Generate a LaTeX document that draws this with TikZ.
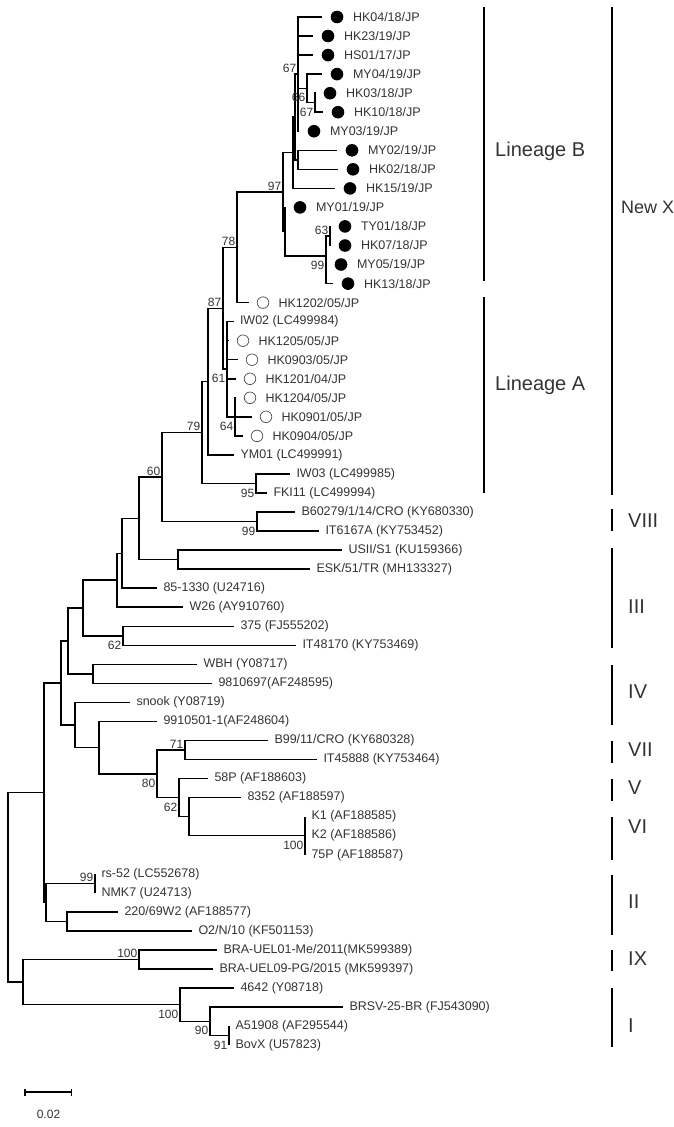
\documentclass[tikz,border=0pt]{standalone}
\usepackage{fontspec}
\setmainfont{Liberation Sans}
\usetikzlibrary{arrows.meta, positioning}

\begin{document}
\begin{tikzpicture}[
  x=1pt, y=-1pt,
  br/.style={line width=1.5pt},
  leaf/.style={anchor=west, font=\fontsize{12.5}{14}\selectfont, text=black!80,
               inner xsep=6.5pt, inner ysep=1pt, outer sep=0pt},
  jp/.style={font=\fontsize{12.5}{14}\selectfont, text=black!80, inner sep=0pt},
  fdot/.style={circle, fill=black, minimum size=12.6pt, inner sep=0pt, outer sep=8.5pt},
  odot/.style={circle, draw=black!70, line width=0.7pt, minimum size=11.6pt,
               inner sep=0pt, outer sep=8.5pt},
  bup/.style={font=\fontsize{12}{13}\selectfont, text=black!80, inner sep=1.5pt, anchor=south east},
  bdn/.style={bup, anchor=north east, yshift=-3.5pt},
  bar/.style={line width=2.8pt},
  clade/.style={anchor=west, font=\fontsize{20}{22}\selectfont, text=black!80, inner sep=0pt}
]
\useasboundingbox (0,0) rectangle (674,1127);

% internal nodes
\coordinate (root) at (8,887.4);
\coordinate (nA) at (44,792.7);
\coordinate (nC) at (23,982.1);
\coordinate (b100a) at (139,959.5);
\coordinate (b100b) at (180,1004.7);
\coordinate (b90) at (210,1021.4);
\coordinate (b91) at (229,1035.6);
\coordinate (nII) at (46,902.4);
\coordinate (b99c) at (95,883.3);
\coordinate (nW) at (67,921.4);
\coordinate (nD) at (61,683);
\coordinate (nF) at (68,641);
\coordinate (nG) at (83,608);
\coordinate (nH) at (117,580.2);
\coordinate (nJ) at (122,553.3);
\coordinate (nK) at (139,518.3);
\coordinate (b60) at (162,477);
\coordinate (nUS) at (178,559.6);
\coordinate (b79) at (202,432.5);
\coordinate (b99b) at (257,521.6);
\coordinate (b95) at (256,483.5);
\coordinate (nX) at (208,381.6);
\coordinate (b87) at (223,308.3);
\coordinate (b61) at (227,369.2);
\coordinate (b64) at (235,416.8);
\coordinate (b78) at (237,247.4);
\coordinate (b97) at (283,192.2);
\coordinate (nQ) at (293,152.7);
\coordinate (nR) at (295,117);
\coordinate (b67) at (298,74.1);
\coordinate (b66) at (307,88.4);
\coordinate (b67b) at (315,102.7);
\coordinate (nS) at (298,159.8);
\coordinate (nT) at (285,231.7);
\coordinate (b99) at (326,256);
\coordinate (b63) at (330,236);
\coordinate (b62) at (123,635.8);
\coordinate (nWBH) at (93,673.9);
\coordinate (nL) at (75,725);
\coordinate (nM) at (99,747.6);
\coordinate (b80) at (157,773.8);
\coordinate (b71) at (185,750);
\coordinate (b62b) at (179,797.6);
\coordinate (nN) at (189,816.7);
\coordinate (b100c) at (305,835.7);

% tips, lineage B
\node[fdot] (hk04) at (337,17) {};
\node[jp, right=1pt of hk04] (hk04t) {HK04/18/JP};
\node[fdot] (hk23) at (328,36) {};
\node[jp, right=1pt of hk23] (hk23t) {HK23/19/JP};
\node[fdot] (hs01) at (328,55.1) {};
\node[jp, right=1pt of hs01] (hs01t) {HS01/17/JP};
\node[fdot] (my04) at (337,74.1) {};
\node[jp, right=1pt of my04] (my04t) {MY04/19/JP};
\node[fdot] (hk03) at (330,93.2) {};
\node[jp, right=1pt of hk03] (hk03t) {HK03/18/JP};
\node[fdot] (hk10) at (338,112.2) {};
\node[jp, right=1pt of hk10] (hk10t) {HK10/18/JP};
\node[fdot] (my03) at (314,131.2) {};
\node[jp, right=1pt of my03] (my03t) {MY03/19/JP};
\node[fdot] (my02) at (352,150.3) {};
\node[jp, right=1pt of my02] (my02t) {MY02/19/JP};
\node[fdot] (hk02) at (353,169.3) {};
\node[jp, right=1pt of hk02] (hk02t) {HK02/18/JP};
\node[fdot] (hk15) at (350,188.4) {};
\node[jp, right=1pt of hk15] (hk15t) {HK15/19/JP};
\node[fdot] (my01) at (300,207.4) {};
\node[jp, right=1pt of my01] (my01t) {MY01/19/JP};
\node[fdot] (ty01) at (345,226.4) {};
\node[jp, right=1pt of ty01] (ty01t) {TY01/18/JP};
\node[fdot] (hk07) at (345,245.5) {};
\node[jp, right=1pt of hk07] (hk07t) {HK07/18/JP};
\node[fdot] (my05) at (341,264.5) {};
\node[jp, right=1pt of my05] (my05t) {MY05/19/JP};
\node[fdot] (hk13) at (348,283.6) {};
\node[jp, right=1pt of hk13] (hk13t) {HK13/18/JP};

% tips, lineage A
\node[odot] (hk1202) at (263,302.6) {};
\node[jp, right=1pt of hk1202] (hk1202t) {HK1202/05/JP};
\node[leaf] (iw02) at (233.5,321.6) {IW02 (LC499984)};
\node[odot] (hk1205) at (243,340.7) {};
\node[jp, right=1pt of hk1205] (hk1205t) {HK1205/05/JP};
\node[odot] (hk0903) at (252,359.7) {};
\node[jp, right=1pt of hk0903] (hk0903t) {HK0903/05/JP};
\node[odot] (hk1201) at (250,378.8) {};
\node[jp, right=1pt of hk1201] (hk1201t) {HK1201/04/JP};
\node[odot] (hk1204) at (250,397.8) {};
\node[jp, right=1pt of hk1204] (hk1204t) {HK1204/05/JP};
\node[odot] (hk0901) at (266,416.8) {};
\node[jp, right=1pt of hk0901] (hk0901t) {HK0901/05/JP};
\node[odot] (hk0904) at (257,435.9) {};
\node[jp, right=1pt of hk0904] (hk0904t) {HK0904/05/JP};
\node[leaf] (ym01) at (234,454.9) {YM01 (LC499991)};
\node[leaf] (iw03) at (290,474) {IW03 (LC499985)};
\node[leaf] (fki11) at (267,493) {FKI11 (LC499994)};

% tips, other genotypes
\node[leaf] (b60279) at (295,512) {B60279/1/14/CRO (KY680330)};
\node[leaf] (it6167) at (319,531.1) {IT6167A (KY753452)};
\node[leaf] (us1) at (342,550.1) {USII/S1 (KU159366)};
\node[leaf] (esk) at (310,569.2) {ESK/51/TR (MH133327)};
\node[leaf] (v851330) at (157,588.2) {85-1330 (U24716)};
\node[leaf] (w26) at (183,607.2) {W26 (AY910760)};
\node[leaf] (v375) at (234,626.3) {375 (FJ555202)};
\node[leaf] (it48170) at (296,645.3) {IT48170 (KY753469)};
\node[leaf] (wbh) at (197,664.4) {WBH (Y08717)};
\node[leaf] (v9810697) at (212,683.4) {9810697(AF248595)};
\node[leaf] (snook) at (130,702.4) {snook (Y08719)};
\node[leaf] (v9910501) at (157,721.5) {9910501-1(AF248604)};
\node[leaf] (b99cro) at (268,740.5) {B99/11/CRO (KY680328)};
\node[leaf] (it45888) at (317,759.6) {IT45888 (KY753464)};
\node[leaf] (p58) at (208,778.6) {58P (AF188603)};
\node[leaf] (v8352) at (241,797.6) {8352 (AF188597)};
\node[leaf] (k1) at (305,816.7) {K1 (AF188585)};
\node[leaf] (k2) at (305,835.7) {K2 (AF188586)};
\node[leaf] (p75) at (305,854.8) {75P (AF188587)};
\node[leaf] (rs52) at (95,873.8) {rs-52 (LC552678)};
\node[leaf] (nmk7) at (95,892.8) {NMK7 (U24713)};
\node[leaf] (v220) at (118,911.9) {220/69W2 (AF188577)};
\node[leaf] (o2) at (192,930.9) {O2/N/10 (KF501153)};
\node[leaf] (bra01) at (217,950) {BRA-UEL01-Me/2011(MK599389)};
\node[leaf] (bra09) at (213,969) {BRA-UEL09-PG/2015 (MK599397)};
\node[leaf] (v4642) at (234,988) {4642 (Y08718)};
\node[leaf] (brsv) at (343,1007.1) {BRSV-25-BR (FJ543090)};
\node[leaf] (a51908) at (229,1026.1) {A51908 (AF295544)};
\node[leaf] (bovx) at (229,1045.2) {BovX (U57823)};

% branches
\draw[br] (root) |- (nA) (root) |- (nC);
\draw[br] (nC) |- (b100a) (nC) |- (b100b);
\draw[br] (b100a) |- (bra01.west) (b100a) |- (bra09.west);
\draw[br] (b100b) |- (v4642.west) (b100b) |- (b90);
\draw[br] (b90) |- (brsv.west) (b90) |- (b91);
\draw[br] (b91) |- (a51908.west) (b91) |- (bovx.west);
\draw[br] (nA) |- (nD) (nA) |- (nII);
\draw[br] (nII) |- (b99c) (nII) |- (nW);
\draw[br] (b99c) |- (rs52.west) (b99c) |- (nmk7.west);
\draw[br] (nW) |- (v220.west) (nW) |- (o2.west);
\draw[br] (nD) |- (nF) (nD) |- (nL);
\draw[br] (nF) |- (nG) (nF) |- (nWBH);
\draw[br] (nWBH) |- (wbh.west) (nWBH) |- (v9810697.west);
\draw[br] (nG) |- (nH) (nG) |- (b62);
\draw[br] (b62) |- (v375.west) (b62) |- (it48170.west);
\draw[br] (nH) |- (nJ) (nH) |- (w26.west);
\draw[br] (nJ) |- (nK) (nJ) |- (v851330.west);
\draw[br] (nK) |- (b60) (nK) |- (nUS);
\draw[br] (nUS) |- (us1.west) (nUS) |- (esk.west);
\draw[br] (b60) |- (b79) (b60) |- (b99b);
\draw[br] (b99b) |- (b60279.west) (b99b) |- (it6167.west);
\draw[br] (b79) |- (nX) (b79) |- (b95);
\draw[br] (b95) |- (iw03.west) (b95) |- (fki11.west);
\draw[br] (nX) |- (b87) (nX) |- (ym01.west);
\draw[br] (b87) |- (b78) (b87) |- (b61);
\draw[br] (b61) |- (iw02.west) (b61) |- (hk1205.west) (b61) |- (hk0903.west)
          (b61) |- (hk1201.west) (b61) |- (b64);
\draw[br] (b64) |- (hk1204.west) (b64) |- (hk0901.west) (b64) |- (hk0904.west);
\draw[br] (b78) |- (b97) (b78) |- (hk1202.west);
\draw[br] (b97) |- (nQ) (b97) |- (nT);
\draw[br] (nQ) |- (nR) (nQ) |- (hk15.west);
\draw[br] (nR) |- (b67) (nR) |- (nS);
\draw[br] (b67) |- (hk04.west) (b67) |- (hk23.west) (b67) |- (hs01.west)
          (b67) |- (b66) (b67) |- (my03.west);
\draw[br] (b66) |- (my04.west) (b66) |- (b67b);
\draw[br] (b67b) |- (hk03.west) (b67b) |- (hk10.west);
\draw[br] (nS) |- (my02.west) (nS) |- (hk02.west);
\draw[br] (nT) |- (my01.west) (nT) |- (b99);
\draw[br] (b99) |- (b63) (b99) |- (my05.west) (b99) |- (hk13.west);
\draw[br] (b63) |- (ty01.west) (b63) |- (hk07.west);
\draw[br] (nL) |- (snook.west) (nL) |- (nM);
\draw[br] (nM) |- (v9910501.west) (nM) |- (b80);
\draw[br] (b80) |- (b71) (b80) |- (b62b);
\draw[br] (b71) |- (b99cro.west) (b71) |- (it45888.west);
\draw[br] (b62b) |- (p58.west) (b62b) |- (nN);
\draw[br] (nN) |- (v8352.west) (nN) |- (b100c);
\draw[br] (b100c) |- (k1.west) (b100c) |- (k2.west) (b100c) |- (p75.west);

% bootstrap values
\node[bup] (l67) at (b67) {67};
\node[bup] (l97) at (b97) {97};
\node[bup] (l78) at (b78) {78};
\node[bup] (l87) at (b87) {87};
\node[bup] (l79) at (b79) {79};
\node[bup] (l60) at (b60) {60};
\node[bup] (l63) at (b63) {63};
\node[bup] (l71) at (b71) {71};
\node[bup] (l99c) at (b99c) {99};
\node[bup] (l100a) at (b100a) {100};
\node[bdn] (l66) at (b66) {66};
\node[bdn] (l67b) at (b67b) {67};
\node[bdn] (l99) at (b99) {99};
\node[bdn] (l61) at (b61) {61};
\node[bdn] (l64) at (b64) {64};
\node[bdn] (l95) at (b95) {95};
\node[bdn] (l99b) at (b99b) {99};
\node[bdn] (l62) at (b62) {62};
\node[bdn] (l80) at (b80) {80};
\node[bdn] (l62b) at (b62b) {62};
\node[bdn] (l100c) at (b100c) {100};
\node[bdn] (l100b) at (b100b) {100};
\node[bdn] (l90) at (b90) {90};
\node[bdn] (l91) at (b91) {91};

% clade bars
\draw[bar] (484,7) coordinate (linbT) -- (484,281) coordinate (linbB);
\node[clade] (linb) at (495,151) {Lineage B};
\draw[bar] (484,297) coordinate (linaT) -- (484,493) coordinate (linaB);
\node[clade] (lina) at (495,385) {Lineage A};
\draw[bar] (612,7) coordinate (gxT) -- (612,495) coordinate (gxB);
\node[clade, font=\fontsize{18}{20}\selectfont] (gx) at (621,207) {New X};
\draw[bar] (612,509) coordinate (g8T) -- (612,531) coordinate (g8B);
\node[clade] (g8) at (628,521) {VIII};
\draw[bar] (612,548) coordinate (g3T) -- (612,648) coordinate (g3B);
\node[clade] (g3) at (628,607) {III};
\draw[bar] (612,665) coordinate (g4T) -- (612,725) coordinate (g4B);
\node[clade] (g4) at (628,692) {IV};
\draw[bar] (612,741) coordinate (g7T) -- (612,763) coordinate (g7B);
\node[clade] (g7) at (628,750) {VII};
\draw[bar] (612,779) coordinate (g5T) -- (612,801) coordinate (g5B);
\node[clade] (g5) at (628,788) {V};
\draw[bar] (612,817) coordinate (g6T) -- (612,860) coordinate (g6B);
\node[clade] (g6) at (628,827) {VI};
\draw[bar] (612,875) coordinate (g2T) -- (612,935) coordinate (g2B);
\node[clade] (g2) at (628,902) {II};
\draw[bar] (612,950) coordinate (g9T) -- (612,971) coordinate (g9B);
\node[clade] (g9) at (628,959) {IX};
\draw[bar] (612,988) coordinate (g1T) -- (612,1047) coordinate (g1B);
\node[clade] (g1) at (628,1026) {I};

% scale bar
\coordinate (s0) at (24,1092);
\coordinate (s1) at (72,1092);
\draw[br, {Bar[width=7pt]}-{Bar[width=7pt]}] (s0) -- (s1);
\node[bup, anchor=center] (slab) at (48.5,1114) {0.02};

\end{tikzpicture}
\end{document}
